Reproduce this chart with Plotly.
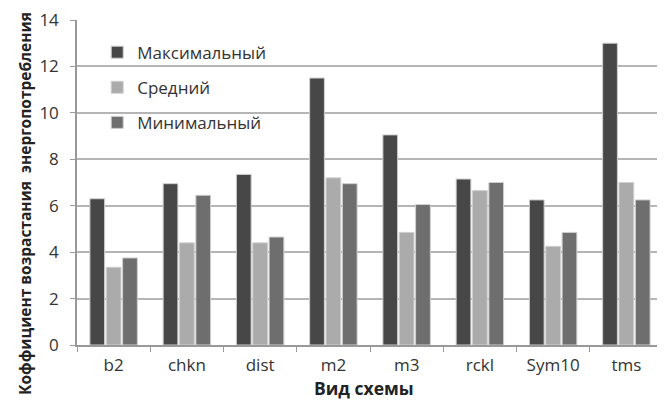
import plotly.graph_objects as go

categories = ["b2", "chkn", "dist", "m2", "m3", "rckl", "Sym10", "tms"]
max_vals = [6.3, 6.95, 7.35, 11.5, 9.05, 7.15, 6.25, 13.0]
avg_vals = [3.35, 4.4, 4.4, 7.2, 4.85, 6.65, 4.25, 7.0]
min_vals = [3.75, 6.45, 4.65, 6.95, 6.05, 7.0, 4.85, 6.25]
series_names = ["Максимальный", "Средний", "Минимальный"]
colors = ["#474747", "#ababab", "#6e6e6e"]
y_ticks = [0, 2, 4, 6, 8, 10, 12, 14]

fig = go.Figure()
for i, (name, vals) in enumerate(zip(series_names, [max_vals, avg_vals, min_vals])):
    fig.add_trace(go.Bar(
        x=categories, y=vals, name=name, legendgroup=name,
        marker=dict(color=colors[i], line=dict(color="#cfcfcf", width=1)),
    ))

# white box behind the legend (covers grid lines, under bars)
fig.add_shape(type="rect", xref="paper", yref="paper",
              x0=0.07, x1=0.3515, y0=0.646, y1=0.969,
              fillcolor="white", line=dict(width=0), layer="below")

fig.add_annotation(text="<b>Коффициент возрастания  энергопотребления</b>",
                   xref="paper", yref="paper", x=-0.111, y=0.437,
                   textangle=-90, showarrow=False,
                   font=dict(size=15.5, color="#222222"))
fig.add_annotation(text="<b>Вид схемы</b>",
                   xref="paper", yref="paper", x=0.49, y=-0.131,
                   yanchor="middle", showarrow=False,
                   font=dict(size=17.5, color="#222222"))

fig.update_layout(
    width=657, height=393,
    margin=dict(l=69, r=2, t=12, b=56),
    paper_bgcolor="white", plot_bgcolor="white",
    barmode="group", bargap=0.33, bargroupgap=0.1,
    font=dict(family="Open Sans, sans-serif", size=14, color="#333333"),
    showlegend=True,
    legend=dict(x=0.0345, y=0.955, xanchor="left", yanchor="top",
                bgcolor="rgba(0,0,0,0)", font=dict(size=17, color="#333333"),
                tracegroupgap=10, itemwidth=30,
                borderwidth=0, traceorder="grouped"),
    xaxis=dict(
        automargin=False,
        showline=True, linecolor="#999999", linewidth=1.5,
        ticks="outside", tickson="boundaries", ticklen=5, tickcolor="#999999",
        tickfont=dict(size=17, color="#333333"), ticklabelstandoff=4,
        ticklabeloverflow="allow",
        showgrid=False,
    ),
    yaxis=dict(
        automargin=False,
        range=[0, 14], tickvals=y_ticks,
        showline=True, linecolor="#999999", linewidth=1.5,
        ticks="outside", ticklen=5, tickcolor="#999999",
        gridcolor="#b5b5b5", gridwidth=1.5,
        tickfont=dict(size=17, color="#333333"), ticklabelstandoff=8,
        ticklabeloverflow="allow",
        zeroline=False,
    ),
)

fig.write_html("out.html")
